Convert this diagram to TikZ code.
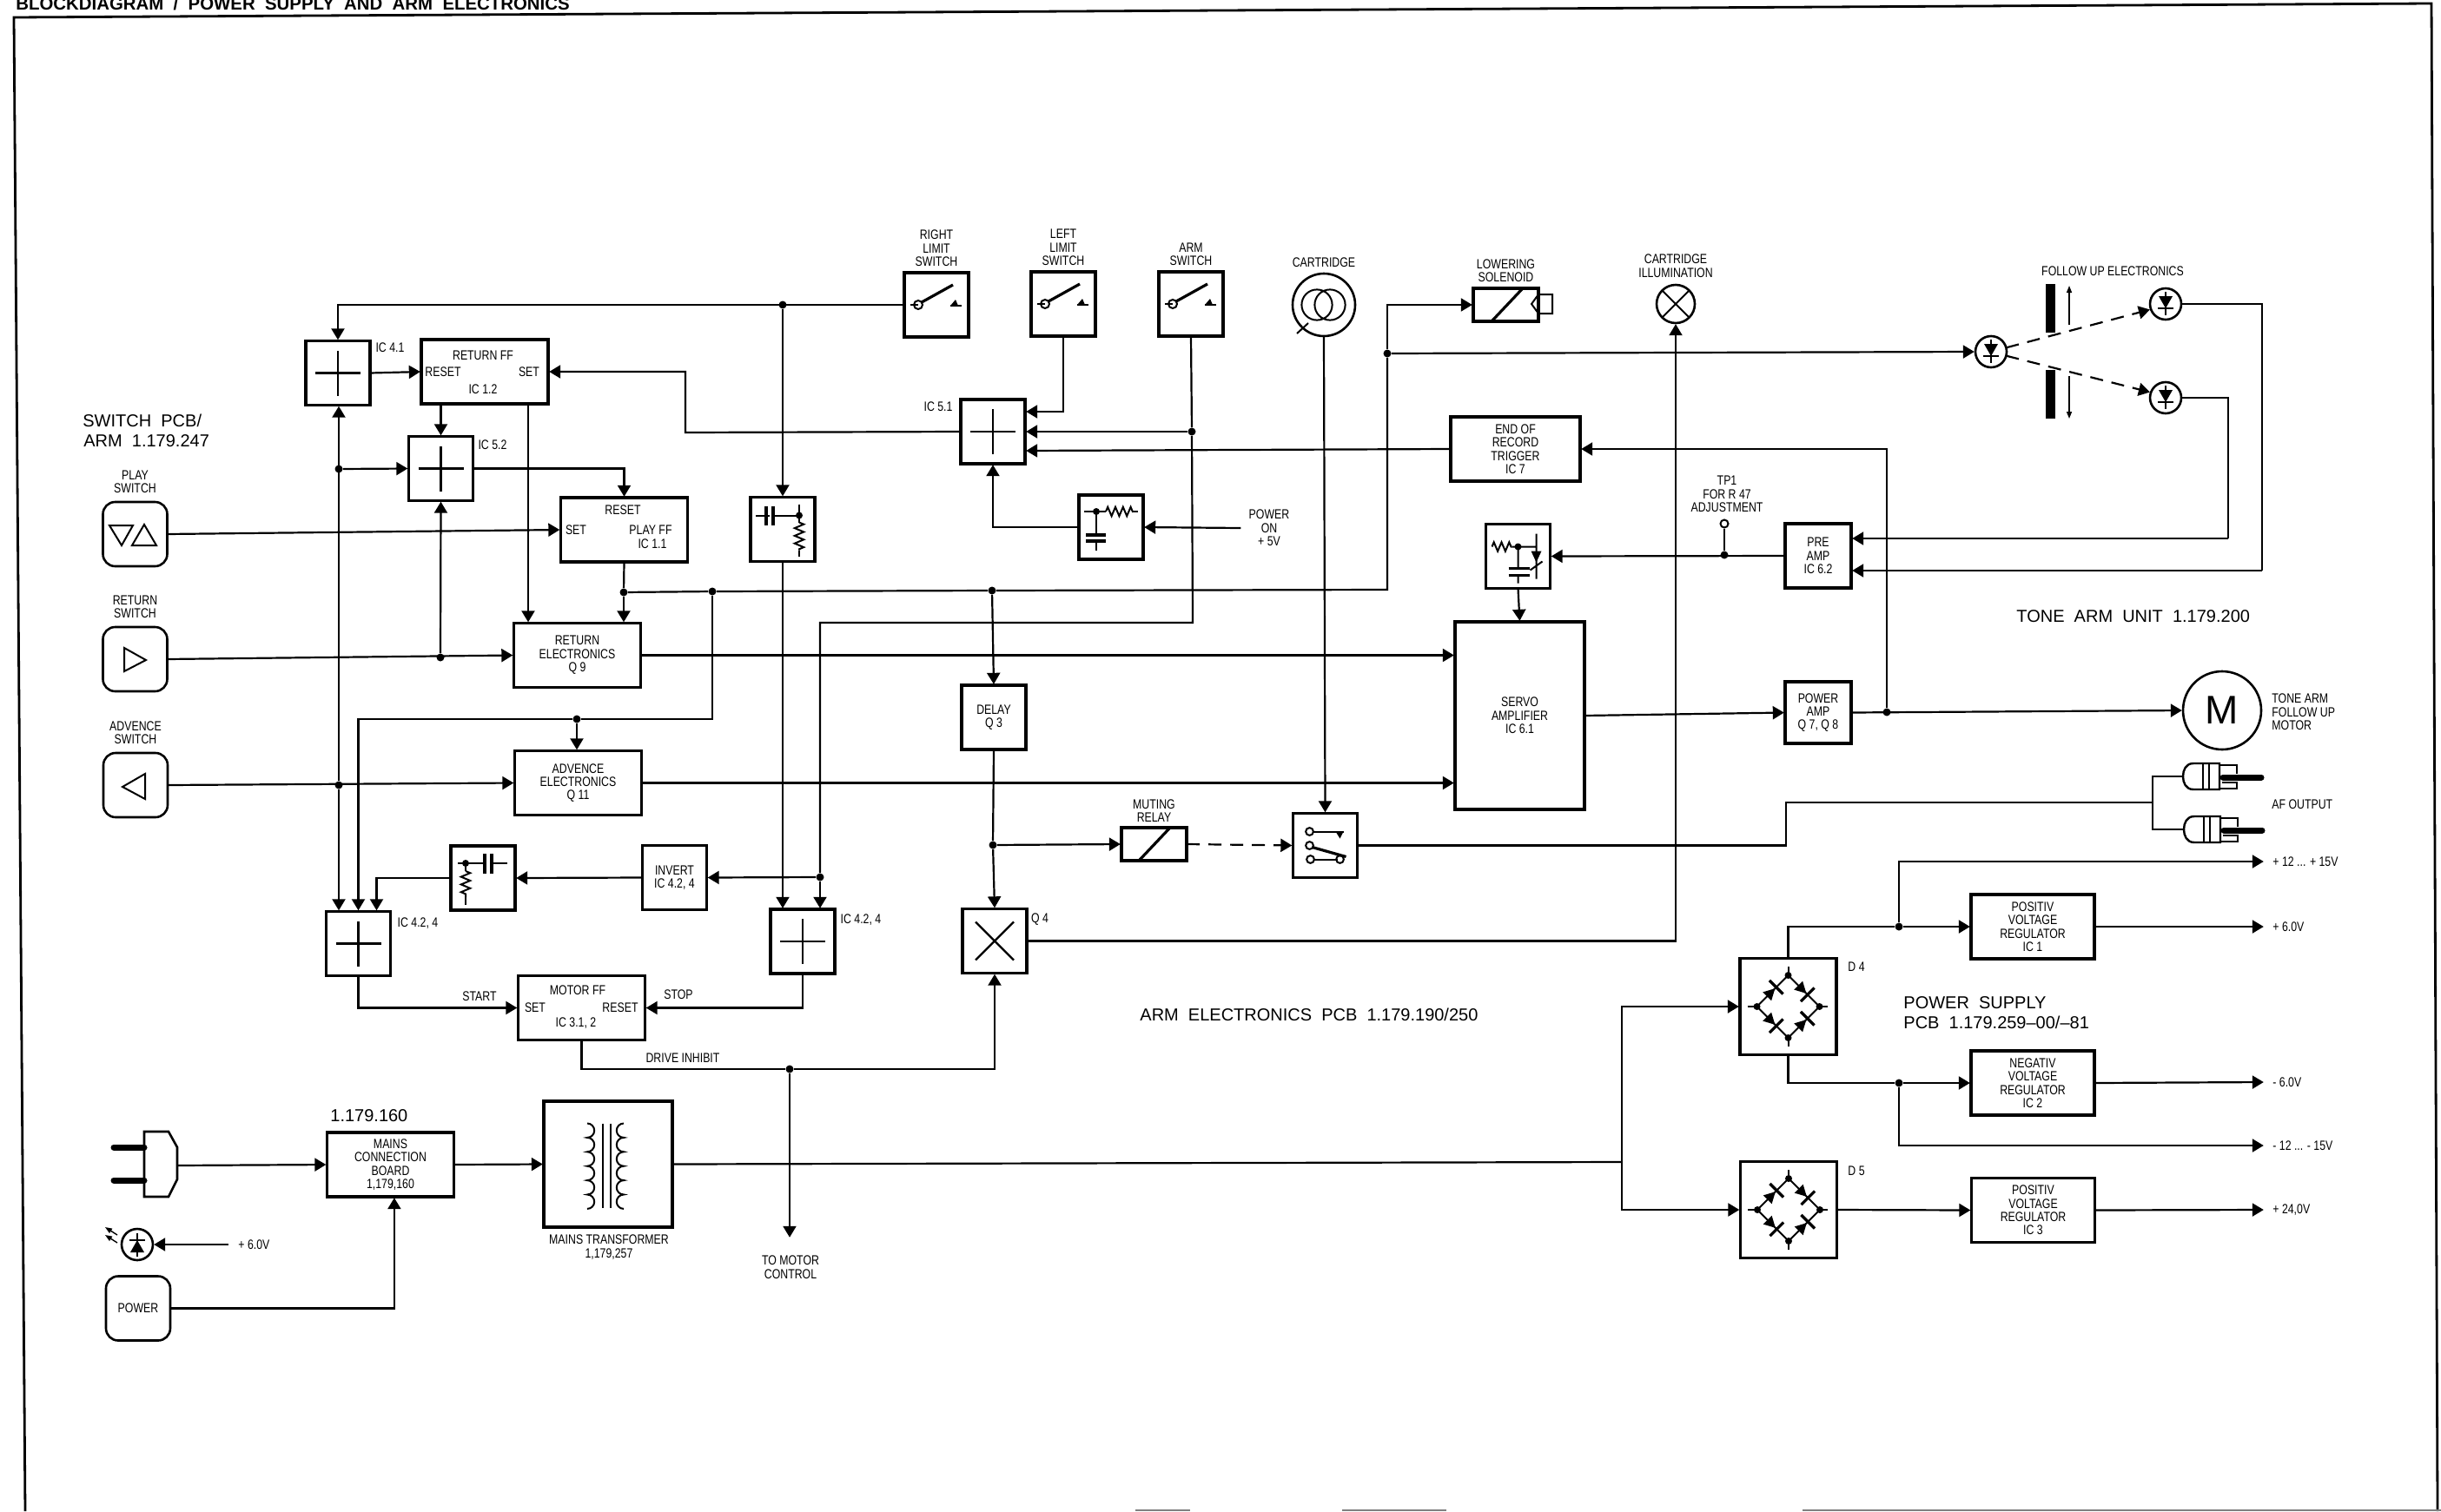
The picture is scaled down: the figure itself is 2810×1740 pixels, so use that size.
\documentclass[tikz,border=0pt]{standalone}
\usepackage{fontspec}
\setmainfont[FakeStretch=0.8]{Liberation Sans}
\newfontfamily\titlefont[WordSpace=2]{Liberation Sans}
\usetikzlibrary{arrows.meta,positioning,decorations.pathmorphing}
\newcommand{\lblfont}{\fontsize{7.7}{7.7}\selectfont}
\tikzset{%
  block/.style={draw,line width=1.6pt,align=center,inner sep=0pt,outer sep=0pt,
    minimum width=37pt,minimum height=37pt},
  wideblock/.style={block,minimum width=73pt},
  regblock/.style={block,minimum width=71pt},
  bridgeblock/.style={block,minimum width=55.5pt,minimum height=55.5pt},
  relayblock/.style={block,minimum width=37.5pt,minimum height=19pt},
  switchkey/.style={block,line width=1.3pt,rounded corners=7pt},
  ring/.style={draw,circle,line width=1.3pt,inner sep=0pt,outer sep=0pt,minimum size=18pt},
  lbl/.style={align=center,inner sep=0pt},
  lblw/.style={lbl,anchor=west},
  title/.style={font=\titlefont\fontsize{10}{12}\selectfont,anchor=base west,inner sep=0pt},
  dot/.style={circle,fill,inner sep=0pt,minimum size=4.5pt},
  wire/.style={line width=1.1pt},
  flow/.style={wire,-{Triangle[length=6.5pt,width=7.5pt]},shorten >=.6pt},
  dashflow/.style={flow,dash pattern=on 7.5pt off 5pt},
  thinflow/.style={line width=.7pt,-{Triangle[length=4pt,width=3pt]}},
  sym/.style={line width=1pt},
  plate/.style={line width=1.6pt},
  res/.style={sym,decorate,decoration={zigzag,segment length=4.4pt,amplitude=2.6pt}}
}
\newcommand{\plussym}[1]{\draw[line width=1.2pt] ([xshift=-13pt]#1.center) -- ([xshift=13pt]#1.center)
  ([yshift=-13pt]#1.center) -- ([yshift=13pt]#1.center);}
\newcommand{\limitsym}[1]{\begin{scope}[shift={(#1.center)}]
  \draw[sym] (-30,0) -- (-21,0);
  \draw[sym] (-21,0) circle[radius=2.5pt];
  \draw[plate] (-17,-3) -- (19,-23);
  \fill (16,1) -- (22,-6) -- (25,1) -- cycle;
  \draw[sym] (16,1) -- (29,1);
\end{scope}}
\newcommand{\bridgesym}[1]{\begin{scope}[shift={(#1.center)}]
  \draw[sym] (-36,0) -- (0,-36) -- (36,0) -- (0,36) -- cycle;
  \draw[sym] (-47,0) -- (-36,0) (36,0) -- (45,0) (0,-46) -- (0,-36) (0,36) -- (0,46);
  \foreach \px/\py in {-36/0,36/0,0/-36,0/36} {\fill (\px,\py) circle[radius=2pt];}
  \foreach \px/\py/\ang in {-18/-18/45,18/-18/-45,-18/18/-45,18/18/45} {
    \begin{scope}[shift={(\px,\py)},rotate=\ang]
      \fill (-9,-7) -- (4,0) -- (-9,7) -- cycle;
      \draw[plate] (6,-11) -- (6,11);
    \end{scope}
  }
\end{scope}}
\newcommand{\diodesym}[2]{\begin{scope}[shift={(#1.center)},rotate=#2]
  \draw[sym] (0,-14) -- (0,13) (-9,5) -- (9,5);
  \fill (-8,-9) -- (8,-9) -- (0,5) -- cycle;
\end{scope}}
\newcommand{\rcasym}[1]{\begin{scope}[shift={(#1)}]
  \draw[line width=1.2pt] (42,-15) -- (12,-15) .. controls (3,-15) and (0,-7) .. (0,0)
    .. controls (0,7) and (3,15) .. (12,15) -- (42,15) -- cycle;
  \draw[sym] (23,-15) -- (23,15) (30,-15) -- (30,15);
  \draw[sym] (42,-13) -- (62,-13) -- (62,-3) (45,7) -- (62,7) -- (62,14) -- (42,14);
  \draw[line width=3.5pt,line cap=round] (46,1) -- (90,1);
\end{scope}}

\begin{document}
\begin{tikzpicture}[x=.5pt,y=-.5pt,font=\lblfont]
  \useasboundingbox (0,0) rectangle (2810,1740);
  % sheet border
  \draw[line width=1.4pt] (29,1740) -- (16,20) -- (2799,4) -- (2806,1740);
  \draw[line width=.7pt,gray] (1307,1739) -- (1370,1739) (1545,1739) -- (1665,1739) (2075,1739) -- (2810,1739);
  \node[anchor=base west,inner sep=0pt,font=\titlefont\bfseries\fontsize{10.2}{12}\selectfont] (heading) at (18,11)
    {BLOCKDIAGRAM / POWER SUPPLY AND ARM ELECTRONICS};

  % switch pcb
  \node[title] (switchpcb) at (95,491) {SWITCH PCB/};
  \node[title] (switcharm) at (96,514) {ARM 1.179.247};
  \node[switchkey] (playsw) at (155.5,615) {};
  \node[switchkey] (retsw) at (155.5,759) {};
  \node[switchkey] (advsw) at (156,904) {};
  \node[lbl,above=5pt of playsw] (playlbl) {PLAY\\SWITCH};
  \node[lbl,above=5pt of retsw] (retlbl) {RETURN\\SWITCH};
  \node[lbl,above=5pt of advsw] (advlbl) {ADVENCE\\SWITCH};
  \draw[sym] (126,605) -- (153,605) -- (140,628) -- cycle (152,628) -- (180,628) -- (166,604) -- cycle;
  \draw[sym] (143,746) -- (168,760) -- (143,773) -- cycle;
  \draw[sym] (167,891) -- (141,906) -- (167,920) -- cycle;

  % arm electronics, left part
  \node[block] (ic41) at (389,429.5) {};
  \node[wideblock] (returnff) at (558,428) {};
  \node[block] (ic52) at (507.5,539.5) {};
  \node[wideblock] (playff) at (718.5,610) {};
  \node[wideblock] (retelec) at (664.5,754.5) {RETURN\\ELECTRONICS\\Q 9};
  \node[wideblock] (advelec) at (665.5,901.5) {ADVENCE\\ELECTRONICS\\Q 11};
  \node[block] (rcnet) at (556,1011) {};
  \node[block] (invert) at (776.5,1010.5) {INVERT\\IC 4.2, 4};
  \node[block] (ic424a) at (412.5,1086.5) {};
  \node[wideblock] (motorff) at (669.5,1160.5) {};
  \node[block] (ic424b) at (924,1084) {};
  \plussym{ic41} \plussym{ic52} \plussym{ic424a} \plussym{ic424b}
  \node[lbl] (ic41lbl) at (449,400) {IC 4.1};
  \node[lbl] (ic52lbl) at (567,512) {IC 5.2};
  \node[lbl] (ic424albl) at (481,1063) {IC 4.2, 4};
  \node[lbl] (ic424blbl) at (991,1059) {IC 4.2, 4};
  \node[lbl] (rffname) at (556,409) {RETURN FF};
  \node[lbl] (rffreset) at (510,428) {RESET};
  \node[lbl] (rffset) at (609,428) {SET};
  \node[lbl] (rffic) at (556,448) {IC 1.2};
  \node[lbl] (pffreset) at (717,587) {RESET};
  \node[lbl] (pffset) at (663,610) {SET};
  \node[lbl] (pffname) at (749,610) {PLAY FF};
  \node[lbl] (pffic) at (751,626) {IC 1.1};
  \node[lbl] (mffname) at (665,1140) {MOTOR FF};
  \node[lbl] (mffset) at (616,1160) {SET};
  \node[lbl] (mffreset) at (714,1160) {RESET};
  \node[lbl] (mffic) at (663,1178) {IC 3.1, 2};
  \node[lbl] (startlbl) at (552,1147) {START};
  \node[lbl] (stoplbl) at (781,1145) {STOP};
  \node[lbl] (inhibitlbl) at (786,1218) {DRIVE INHIBIT};
  \node[lbl] (tomotor) at (910,1459) {TO MOTOR\\CONTROL};

  % arm electronics, middle part
  \node[block] (rightlimit) at (1078,351) {};
  \node[block] (leftlimit) at (1224,350) {};
  \node[block] (armsw) at (1371,350) {};
  \limitsym{rightlimit} \limitsym{leftlimit} \limitsym{armsw}
  \node[lbl,above=3.5pt of rightlimit] (rightlbl) {RIGHT\\LIMIT\\SWITCH};
  \node[lbl,above=3.5pt of leftlimit] (leftlbl) {LEFT\\LIMIT\\SWITCH};
  \node[lbl,above=3.5pt of armsw] (armlbl) {ARM\\SWITCH};
  \node[block] (rcbox) at (901,609.5) {};
  \node[block] (ic51) at (1143,497) {};
  \node[block] (rcpower) at (1279,607) {};
  \node[block] (delay) at (1144,826) {DELAY\\Q 3};
  \node[block] (q4) at (1145,1083.5) {};
  \plussym{ic51}
  \draw[line width=1.2pt] ([shift={(-11pt,-11pt)}]q4.center) -- ([shift={(11pt,11pt)}]q4.center)
    ([shift={(-11pt,11pt)}]q4.center) -- ([shift={(11pt,-11pt)}]q4.center);
  \node[lbl] (ic51lbl) at (1080,468) {IC 5.1};
  \node[lbl] (q4lbl) at (1197,1059) {Q 4};
  \node[lbl] (poweron) at (1461,608) {POWER\\ON\\+ 5V};
  \node[relayblock] (muting) at (1328.5,972) {};
  \node[lbl,above=3pt of muting] (mutinglbl) {MUTING\\RELAY};
  \draw[plate] (1312,990) -- (1346,954);
  \node[block] (selector) at (1525.5,973.5) {};
  \node[title] (armtitle) at (1312,1175) {ARM ELECTRONICS PCB 1.179.190/250};

  % RC networks
  \begin{scope}[shift={(rcbox.center)}]
    \draw[sym] (-31,-16) -- (-15,-16) (-11,-16) -- (19,-16) (19,-29) -- (19,-8) (19,24) -- (19,31);
    \draw[plate] (-19,-27) -- (-19,-5) (-11,-27) -- (-11,-5);
    \fill (19,-16) circle[radius=2pt];
    \draw[res] (19,-8) -- (19,24);
  \end{scope}
  \begin{scope}[shift={(rcnet.center)}]
    \draw[sym] (-29,-17) -- (2,-17) (10,-17) -- (28,-17) (-20,-17) -- (-20,-8) (-20,22) -- (-20,31);
    \draw[plate] (2,-28) -- (2,-5) (10,-28) -- (10,-5);
    \fill (-20,-17) circle[radius=2pt];
    \draw[res] (-20,-8) -- (-20,22);
  \end{scope}
  \begin{scope}[shift={(rcpower.center)}]
    \draw[sym] (-31,-18) -- (-6,-18) (25,-18) -- (31,-18) (-17,-18) -- (-17,9) (-17,16) -- (-17,27);
    \draw[plate] (-29,9) -- (-6,9) (-29,16) -- (-6,16);
    \fill (-17,-18) circle[radius=2pt];
    \draw[res] (-6,-18) -- (25,-18);
  \end{scope}
  \node[block] (rcservo) at (1747.5,640.5) {};
  \begin{scope}[shift={(rcservo.center)}]
    \draw[sym] (-7,-11) -- (21,-11) (0,-11) -- (0,14) (0,22) -- (0,31) (21,-26) -- (21,26) (14,16) -- (28,6);
    \draw[plate] (-11,14) -- (13,14) (-11,22) -- (13,22);
    \fill (0,-11) circle[radius=2pt];
    \fill (15,-6) -- (27,-6) -- (21,7) -- cycle;
    \draw[res] (-30,-11) -- (-7,-11);
  \end{scope}
  % muting contact
  \begin{scope}[shift={(selector.center)}]
    \draw[sym] (-14,-16) -- (21,-16) (-13,16) -- (14,16);
    \draw[sym] (-18,-16) circle[radius=2.2pt] (-18,0) circle[radius=2.2pt] (-17,16) circle[radius=2.2pt] (17,16) circle[radius=2.2pt];
    \fill (12,-16) -- (21,-16) -- (17,-8) -- cycle;
    \draw[plate] (-15,2) -- (24,13);
  \end{scope}

  % tone arm unit
  \node[ring,minimum size=36pt] (cart) at (1524,351) {};
  \draw[sym] (1516,351) circle[radius=8.8pt] (1531,351) circle[radius=8.8pt] (1493,384) -- (1506,372);
  \node[lbl,above=3.5pt of cart] (cartlbl) {CARTRIDGE};
  \node[relayblock] (solenoid) at (1733.5,351) {};
  \draw[plate] (1718,369) -- (1752,333);
  \draw[sym] (1771,339) -- (1787,339) -- (1787,361) -- (1771,361) -- (1763,350) -- cycle;
  \node[lbl,above=3.5pt of solenoid] (solenoidlbl) {LOWERING\\SOLENOID};
  \node[ring,minimum size=22pt] (lamp) at (1929,350) {};
  \draw[sym] (lamp.45) -- (lamp.225) (lamp.135) -- (lamp.-45);
  \node[lbl] (lamplbl) at (1929,306) {CARTRIDGE\\ILLUMINATION};
  \node[wideblock,minimum width=74.5pt] (eor) at (1744.5,517) {END OF\\RECORD\\TRIGGER\\IC 7};
  \node[wideblock,minimum width=74.5pt,minimum height=108pt] (servo) at (1749.5,824) {SERVO\\AMPLIFIER\\IC 6.1};
  \node[block,minimum width=38pt] (preamp) at (2093,640) {PRE\\AMP\\IC 6.2};
  \node[block,minimum width=38pt,minimum height=35.5pt] (poweramp) at (2093,820.5) {POWER\\AMP\\Q 7, Q 8};
  \node[ring] (emit) at (2292,405) {};
  \node[ring] (det1) at (2493,350) {};
  \node[ring] (det2) at (2493,458) {};
  \diodesym{emit}{0} \diodesym{det1}{0} \diodesym{det2}{0}
  \node[fill,inner sep=0pt,minimum width=5.5pt,minimum height=28pt] (bar1) at (2360,355) {};
  \node[fill,inner sep=0pt,minimum width=5.5pt,minimum height=28pt] (bar2) at (2360,454) {};
  \draw[thinflow] (2382,374) -- (2382,329);
  \draw[thinflow] (2382,433) -- (2382,482);
  \node[lbl] (followlbl) at (2432,312) {FOLLOW UP ELECTRONICS};
  \node[lbl] (tp1lbl) at (1988,569) {TP1\\FOR R 47\\ADJUSTMENT};
  \node[draw,circle,sym,inner sep=0pt,minimum size=4.5pt] (tp1) at (1985,603) {};
  \node[title] (tonetitle) at (2321,716) {TONE ARM UNIT 1.179.200};
  \node[ring,minimum size=45pt,font=\titlefont\fontsize{23}{23}\selectfont] (motor) at (2558,818) {M};
  \node[lblw,align=left] (motorlbl) at (2615,820) {TONE ARM\\FOLLOW UP\\MOTOR};
  \node[lblw] (aflbl) at (2615,926) {AF OUTPUT};
  \coordinate (plug1) at (2513,894);
  \coordinate (plug2) at (2514,955);
  \rcasym{plug1} \rcasym{plug2}

  % power supply
  \node[bridgeblock] (d4) at (2058.5,1159) {};
  \node[bridgeblock] (d5) at (2059,1393) {};
  \bridgesym{d4} \bridgesym{d5}
  \node[lbl] (d4lbl) at (2137,1113) {D 4};
  \node[lbl] (d5lbl) at (2137,1348) {D 5};
  \node[regblock] (reg1) at (2340,1067) {POSITIV\\VOLTAGE\\REGULATOR\\IC 1};
  \node[regblock] (reg2) at (2340,1247) {NEGATIV\\VOLTAGE\\REGULATOR\\IC 2};
  \node[regblock] (reg3) at (2340.5,1393.5) {POSITIV\\VOLTAGE\\REGULATOR\\IC 3};
  \node[title] (supplytitle) at (2191,1161) {POWER SUPPLY};
  \node[title] (supplypcb) at (2191,1184) {PCB 1.179.259–00/–81};
  \node[lblw] (out12) at (2616,992) {+ 12 ... + 15V};
  \node[lblw] (out6) at (2616,1067) {+ 6.0V};
  \node[lblw] (outn6) at (2616,1246) {- 6.0V};
  \node[lblw] (outn12) at (2616,1319) {- 12 ... - 15V};
  \node[lblw] (out24) at (2616,1393) {+ 24,0V};

  % mains input
  \draw[line width=1.3pt] (166,1303) -- (194,1303) -- (204,1321) -- (204,1358) -- (194,1378) -- (166,1378) -- cycle;
  \draw[line width=3.5pt,line cap=round] (131,1321) -- (166,1321) (131,1359) -- (166,1359);
  \coordinate (mainsplug) at (204,1342);
  \node[wideblock] (mains) at (449.5,1341) {MAINS\\CONNECTION\\BOARD\\1,179,160};
  \node[title] (mainsnum) at (380,1291) {1.179.160};
  \node[wideblock,minimum width=74pt,minimum height=72.5pt] (transformer) at (700,1340.5) {};
  \begin{scope}[shift={(transformer.center)}]
    \draw[sym] (-24,-47) \foreach \k in {1,...,6} {arc[start angle=90,end angle=-90,radius=4.1pt]};
    \draw[sym] (18,-47) \foreach \k in {1,...,6} {arc[start angle=90,end angle=270,radius=4.1pt]};
    \draw[sym] (-6,-47) -- (-6,50) (3,-47) -- (3,50);
  \end{scope}
  \node[lbl] (translbl) at (701,1436) {MAINS TRANSFORMER\\1,179,257};
  \node[ring] (led) at (158,1433) {};
  \diodesym{led}{180}
  \draw[thinflow] (135,1422) -- (121,1413);
  \draw[thinflow] (135,1431) -- (121,1422);
  \node[lblw] (sixv) at (274,1433) {+ 6.0V};
  \node[switchkey] (powerbtn) at (159,1506.5) {POWER};

  % junctions
  \node[dot] (jtop) at (901,351) {};
  \node[dot] (jic52) at (390,540) {};
  \node[dot] (jret) at (507,757) {};
  \node[dot] (jplay) at (718,682) {};
  \node[dot] (jmid) at (820,681) {};
  \node[dot] (jadvtop) at (664,828) {};
  \node[dot] (jadv) at (390,904) {};
  \node[dot] (jinv) at (944,1010) {};
  \node[dot] (jarm) at (1372,497) {};
  \node[dot] (jdelay) at (1142,680) {};
  \node[dot] (jmute) at (1143,973) {};
  \node[dot] (jinhibit) at (909,1231) {};
  \node[dot] (jfollow) at (1597,407) {};
  \node[dot] (jtp) at (1985,639) {};
  \node[dot] (jmotor) at (2172,820) {};
  \node[dot] (jpos) at (2186,1067) {};
  \node[dot] (jneg) at (2186,1247) {};
  \coordinate (setbend) at (789,498);
  \coordinate (ffdrop) at (608,428);
  \coordinate (busbend) at (1597,679);
  \coordinate (armbend) at (1373,717);
  \coordinate (motorend) at (909,1426);
  \coordinate (afbend) at (2056,924);
  \coordinate (afjoin) at (2478,924);
  \coordinate (det1bend) at (2604,657);
  \coordinate (det2bend) at (2565,620);
  \coordinate (splitbus) at (1867,1338);

  % switch lines
  \draw[flow] (playsw.east) -- (playff.west);
  \draw[flow] (retsw.east) -- (retelec.west);
  \draw[flow] (advsw.east) -- (advelec.west);
  \draw[flow] (jret) -- (ic52.south);
  \draw[flow] (jadv) -- (jadv |- ic41.south);
  \draw[flow] (jadv) -- (jadv |- ic424a.north);
  \draw[flow] (jic52) -- (ic52.west);
  \draw[flow] (rightlimit.west) -| (ic41.north);
  \draw[flow] (jtop) -- (rcbox.north);
  \draw[flow] (rcbox.south) -- (rcbox.south |- ic424b.north);
  \draw[flow] (ic41.east) -- (returnff.west);
  \draw[flow] (ic51.west) -- (setbend) |- (returnff.east);
  \draw[flow] (ic52.north |- returnff.south) -- (ic52.north);
  \draw[flow] (ffdrop |- returnff.south) -- (ffdrop |- retelec.north);
  \draw[flow] (ic52.east) -| (playff.north);
  \draw[wire] (playff.south) -- (jplay);
  \draw[flow] (jplay) -- (jplay |- retelec.north);
  \draw[wire] (jplay) -- (jmid) -- (jdelay) -- (busbend) -- (jfollow);
  \draw[flow] (jfollow) |- (solenoid.west);
  \draw[flow] (jfollow) -- (emit.west);
  \draw[wire] (jmid) |- (jadvtop);
  \draw[flow] (jadvtop) -| (ic424a.north);
  \draw[flow] (jadvtop) -- (jadvtop |- advelec.north);
  \draw[flow] (rcnet.west) -| ([xshift=10.5pt]ic424a.north);
  \draw[flow] (invert.west) -- (rcnet.east);
  \draw[flow] (jinv) -- (invert.east);
  \draw[wire] (armsw.south) -- (jarm) -- (armbend) -- (armbend -| jinv) -- (jinv);
  \draw[flow] (jinv) -- (jinv |- ic424b.north);
  \draw[flow] (ic424a.south) |- (motorff.west);
  \draw[flow] (ic424b.south) |- (motorff.east);
  \draw[wire] (motorff.south) |- (jinhibit);
  \draw[flow] (jinhibit) -| (q4.south);
  \draw[flow] (jinhibit) -- (motorend);
  \draw[flow] (leftlimit.south) |- ([yshift=11.5pt]ic51.east);
  \draw[flow] (jarm) -- (ic51.east);
  \draw[flow] (eor.west) -- ([yshift=-11pt]ic51.east);
  \draw[flow] (rcpower.west) -| (ic51.south);
  \draw[flow] ([xshift=-4.5pt]poweron.west) -- (rcpower.east);
  \draw[flow] (jdelay) -- (delay.north);
  \draw[wire] (delay.south) -- (jmute);
  \draw[flow] (jmute) -- (q4.north);
  \draw[flow] (jmute) -- (muting.west);
  \draw[dashflow] (muting.east) -- (selector.west);
  \draw[flow] (cart.south) -- (selector.north);
  \draw[flow] (q4.east) -| (lamp.south);
  \draw[flow] (retelec.east) -- (retelec.east -| servo.west);
  \draw[flow] (advelec.east) -- (advelec.east -| servo.west);
  \draw[wire] (selector.east) -| (afbend) -- (afjoin);
  \draw[wire] (plug1) -| (afjoin) |- (plug2);

  % tone arm lines
  \draw[dashflow] (emit.15) -- (det1.200);
  \draw[dashflow] (emit.-15) -- (det2.160);
  \draw[wire] (det1.east) -| (det1bend);
  \draw[flow] (det1bend) -- (det1bend -| preamp.east);
  \draw[wire] (det2.east) -| (det2bend);
  \draw[flow] (det2bend) -- (det2bend -| preamp.east);
  \draw[flow] (preamp.west) -- (rcservo.east);
  \draw[wire] (jtp) -- (tp1.south);
  \draw[flow] (rcservo.south) -- (servo.north);
  \draw[flow] (servo.east) -- (poweramp.west);
  \draw[flow] (poweramp.east) -- (motor.west);
  \draw[flow] (jmotor) |- (eor.east);

  % supply lines
  \draw[flow] (mainsplug) -- (mains.west);
  \draw[flow] (mains.east) -- (transformer.west);
  \draw[flow] (powerbtn.east) -| ([xshift=2.2pt]mains.south);
  \draw[flow] ([xshift=-5.5pt]sixv.west) -- (led.east);
  \draw[wire] (transformer.east) -- (splitbus);
  \draw[flow] (splitbus) |- (d4.west);
  \draw[flow] (splitbus) |- (d5.west);
  \draw[wire] (d4.north) |- (jpos);
  \draw[flow] (jpos) -- (reg1.west);
  \draw[flow] (jpos) |- ([xshift=-4.5pt]out12.west);
  \draw[wire] (d4.south) |- (jneg);
  \draw[flow] (jneg) -- (reg2.west);
  \draw[flow] (jneg) |- ([xshift=-4.5pt]outn12.west);
  \draw[flow] (d5.east) -- (reg3.west);
  \draw[flow] (reg1.east) -- ([xshift=-4.5pt]out6.west);
  \draw[flow] (reg2.east) -- ([xshift=-4.5pt]outn6.west);
  \draw[flow] (reg3.east) -- ([xshift=-4.5pt]out24.west);
\end{tikzpicture}
\end{document}
